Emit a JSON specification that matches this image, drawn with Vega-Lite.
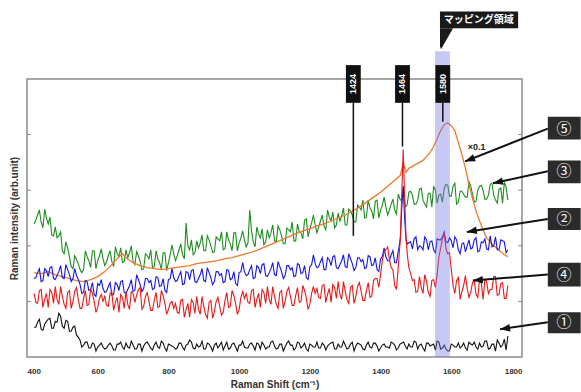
{
"$schema": "https://vega.github.io/schema/vega-lite/v6.json",
"width": 495, "height": 278,
"autosize": {"type": "none"},
"padding": {"left": 27, "top": 79, "right": 59, "bottom": 35},
"background": "white",
"config": {"view": {"stroke": "#8a8a8a", "strokeWidth": 1.5}},
"datasets": {
"green": [{"x":420,"y":134},{"x":430,"y":143},{"x":440,"y":136},{"x":450,"y":149},{"x":460,"y":134},{"x":470,"y":123},{"x":480,"y":131},{"x":490,"y":122},{"x":500,"y":107},{"x":510,"y":116},{"x":520,"y":101},{"x":530,"y":89},{"x":540,"y":98},{"x":550,"y":88},{"x":560,"y":88},{"x":570,"y":101},{"x":580,"y":90},{"x":590,"y":107},{"x":600,"y":97},{"x":610,"y":109},{"x":620,"y":92},{"x":630,"y":102},{"x":640,"y":96},{"x":650,"y":111},{"x":660,"y":101},{"x":670,"y":95},{"x":680,"y":108},{"x":690,"y":105},{"x":700,"y":96},{"x":710,"y":106},{"x":720,"y":96},{"x":730,"y":89},{"x":740,"y":102},{"x":750,"y":108},{"x":760,"y":91},{"x":770,"y":99},{"x":780,"y":88},{"x":790,"y":105},{"x":800,"y":95},{"x":810,"y":113},{"x":820,"y":97},{"x":830,"y":108},{"x":840,"y":103},{"x":850,"y":135},{"x":860,"y":108},{"x":870,"y":103},{"x":880,"y":117},{"x":890,"y":115},{"x":900,"y":107},{"x":910,"y":122},{"x":920,"y":112},{"x":930,"y":106},{"x":940,"y":119},{"x":950,"y":126},{"x":960,"y":109},{"x":970,"y":118},{"x":980,"y":107},{"x":990,"y":125},{"x":1000,"y":115},{"x":1010,"y":127},{"x":1020,"y":111},{"x":1030,"y":148},{"x":1040,"y":116},{"x":1050,"y":131},{"x":1060,"y":120},{"x":1070,"y":113},{"x":1080,"y":128},{"x":1090,"y":125},{"x":1100,"y":117},{"x":1110,"y":132},{"x":1120,"y":122},{"x":1130,"y":114},{"x":1140,"y":128},{"x":1150,"y":136},{"x":1160,"y":117},{"x":1170,"y":126},{"x":1180,"y":119},{"x":1190,"y":139},{"x":1200,"y":129},{"x":1210,"y":143},{"x":1220,"y":125},{"x":1230,"y":137},{"x":1240,"y":132},{"x":1250,"y":148},{"x":1260,"y":137},{"x":1270,"y":130},{"x":1280,"y":145},{"x":1290,"y":142},{"x":1300,"y":133},{"x":1310,"y":149},{"x":1320,"y":143},{"x":1330,"y":136},{"x":1340,"y":151},{"x":1350,"y":158},{"x":1360,"y":141},{"x":1370,"y":150},{"x":1380,"y":139},{"x":1390,"y":158},{"x":1400,"y":148},{"x":1410,"y":161},{"x":1420,"y":143},{"x":1430,"y":154},{"x":1440,"y":148},{"x":1450,"y":164},{"x":1460,"y":157},{"x":1464,"y":172},{"x":1470,"y":151},{"x":1480,"y":166},{"x":1490,"y":163},{"x":1500,"y":154},{"x":1510,"y":169},{"x":1520,"y":158},{"x":1530,"y":151},{"x":1540,"y":165},{"x":1550,"y":172},{"x":1560,"y":155},{"x":1570,"y":164},{"x":1580,"y":170},{"x":1590,"y":173},{"x":1600,"y":162},{"x":1610,"y":175},{"x":1620,"y":156},{"x":1630,"y":167},{"x":1640,"y":161},{"x":1650,"y":177},{"x":1660,"y":164},{"x":1670,"y":157},{"x":1680,"y":172},{"x":1690,"y":168},{"x":1700,"y":159},{"x":1710,"y":174},{"x":1720,"y":163},{"x":1730,"y":155},{"x":1740,"y":170},{"x":1750,"y":176},{"x":1760,"y":158},
{"x":425,"y":138},{"x":435,"y":148},{"x":445,"y":130},{"x":455,"y":140},{"x":465,"y":141},{"x":475,"y":122},{"x":485,"y":120},{"x":495,"y":126},{"x":505,"y":104},{"x":515,"y":110},{"x":525,"y":91},{"x":535,"y":102},{"x":545,"y":94},{"x":555,"y":85},{"x":565,"y":107},{"x":575,"y":97},{"x":585,"y":107},{"x":595,"y":89},{"x":605,"y":102},{"x":615,"y":99},{"x":625,"y":96},{"x":635,"y":107},{"x":645,"y":91},{"x":655,"y":104},{"x":665,"y":110},{"x":675,"y":96},{"x":685,"y":100},{"x":695,"y":112},{"x":705,"y":93},{"x":715,"y":102},{"x":725,"y":88},{"x":735,"y":104},{"x":745,"y":99},{"x":755,"y":90},{"x":765,"y":107},{"x":775,"y":95},{"x":785,"y":105},{"x":795,"y":87},{"x":805,"y":103},{"x":815,"y":104},{"x":825,"y":102},{"x":835,"y":114},{"x":845,"y":99},{"x":855,"y":112},{"x":865,"y":118},{"x":875,"y":105},{"x":885,"y":110},{"x":895,"y":123},{"x":905,"y":107},{"x":915,"y":118},{"x":925,"y":105},{"x":935,"y":121},{"x":945,"y":117},{"x":955,"y":108},{"x":965,"y":126},{"x":975,"y":114},{"x":985,"y":125},{"x":995,"y":107},{"x":1005,"y":120},{"x":1015,"y":118},{"x":1025,"y":115},{"x":1035,"y":127},{"x":1045,"y":111},{"x":1055,"y":124},{"x":1065,"y":129},{"x":1075,"y":116},{"x":1085,"y":120},{"x":1095,"y":133},{"x":1105,"y":116},{"x":1115,"y":128},{"x":1125,"y":114},{"x":1135,"y":130},{"x":1145,"y":126},{"x":1155,"y":117},{"x":1165,"y":134},{"x":1175,"y":125},{"x":1185,"y":138},{"x":1195,"y":121},{"x":1205,"y":135},{"x":1215,"y":133},{"x":1225,"y":131},{"x":1235,"y":143},{"x":1245,"y":128},{"x":1255,"y":141},{"x":1265,"y":146},{"x":1275,"y":133},{"x":1285,"y":137},{"x":1295,"y":150},{"x":1305,"y":133},{"x":1315,"y":147},{"x":1325,"y":136},{"x":1335,"y":153},{"x":1345,"y":148},{"x":1355,"y":140},{"x":1365,"y":158},{"x":1375,"y":147},{"x":1385,"y":157},{"x":1395,"y":140},{"x":1405,"y":153},{"x":1415,"y":151},{"x":1425,"y":148},{"x":1435,"y":159},{"x":1445,"y":144},{"x":1455,"y":159},{"x":1475,"y":153},{"x":1485,"y":167},{"x":1495,"y":154},{"x":1505,"y":158},{"x":1515,"y":170},{"x":1525,"y":154},{"x":1535,"y":165},{"x":1545,"y":151},{"x":1555,"y":168},{"x":1565,"y":163},{"x":1575,"y":156},{"x":1585,"y":174},{"x":1595,"y":162},{"x":1605,"y":172},{"x":1615,"y":154},{"x":1625,"y":167},{"x":1635,"y":164},{"x":1645,"y":161},{"x":1655,"y":172},{"x":1665,"y":156},{"x":1675,"y":168},{"x":1685,"y":173},{"x":1695,"y":159},{"x":1705,"y":163},{"x":1715,"y":175},{"x":1725,"y":158},{"x":1735,"y":169},{"x":1745,"y":155},{"x":1755,"y":171}],
"orange": [{"x":420,"y":85},{"x":440,"y":84},{"x":460,"y":86},{"x":480,"y":83},{"x":500,"y":81},{"x":520,"y":79},{"x":540,"y":77},{"x":560,"y":76},{"x":580,"y":78},{"x":600,"y":81},{"x":620,"y":86},{"x":640,"y":93},{"x":660,"y":101},{"x":670,"y":104},{"x":680,"y":100},{"x":700,"y":95},{"x":720,"y":92},{"x":740,"y":90},{"x":760,"y":89},{"x":780,"y":88},{"x":800,"y":89},{"x":820,"y":90},{"x":840,"y":91},{"x":860,"y":92},{"x":880,"y":94},{"x":900,"y":95},{"x":920,"y":96},{"x":940,"y":97},{"x":960,"y":99},{"x":980,"y":100},{"x":1000,"y":102},{"x":1020,"y":104},{"x":1040,"y":106},{"x":1060,"y":109},{"x":1080,"y":112},{"x":1100,"y":115},{"x":1120,"y":118},{"x":1140,"y":121},{"x":1160,"y":124},{"x":1180,"y":127},{"x":1200,"y":129},{"x":1220,"y":132},{"x":1240,"y":134},{"x":1260,"y":137},{"x":1280,"y":140},{"x":1300,"y":143},{"x":1320,"y":147},{"x":1340,"y":151},{"x":1360,"y":156},{"x":1380,"y":161},{"x":1400,"y":166},{"x":1420,"y":172},{"x":1440,"y":178},{"x":1456,"y":183},{"x":1464,"y":196},{"x":1472,"y":186},{"x":1480,"y":190},{"x":1500,"y":194},{"x":1520,"y":198},{"x":1540,"y":206},{"x":1550,"y":212},{"x":1560,"y":220},{"x":1570,"y":228},{"x":1580,"y":234},{"x":1590,"y":236},{"x":1600,"y":233},{"x":1610,"y":228},{"x":1620,"y":216},{"x":1630,"y":204},{"x":1640,"y":190},{"x":1650,"y":174},{"x":1660,"y":160},{"x":1670,"y":147},{"x":1680,"y":137},{"x":1690,"y":128},{"x":1700,"y":120},{"x":1710,"y":116},{"x":1720,"y":112},{"x":1730,"y":109},{"x":1740,"y":106},{"x":1750,"y":103},{"x":1760,"y":101}],
"blue": [{"x":420,"y":79},{"x":430,"y":85},{"x":440,"y":76},{"x":450,"y":89},{"x":460,"y":81},{"x":470,"y":91},{"x":480,"y":78},{"x":490,"y":86},{"x":500,"y":80},{"x":510,"y":93},{"x":520,"y":83},{"x":530,"y":79},{"x":540,"y":82},{"x":550,"y":73},{"x":560,"y":65},{"x":570,"y":76},{"x":580,"y":68},{"x":590,"y":63},{"x":600,"y":74},{"x":610,"y":78},{"x":620,"y":65},{"x":630,"y":71},{"x":640,"y":62},{"x":650,"y":75},{"x":660,"y":67},{"x":670,"y":77},{"x":680,"y":64},{"x":690,"y":72},{"x":700,"y":66},{"x":710,"y":83},{"x":720,"y":73},{"x":730,"y":69},{"x":740,"y":79},{"x":750,"y":77},{"x":760,"y":69},{"x":770,"y":80},{"x":780,"y":72},{"x":790,"y":67},{"x":800,"y":78},{"x":810,"y":89},{"x":820,"y":76},{"x":830,"y":82},{"x":840,"y":73},{"x":850,"y":86},{"x":860,"y":78},{"x":870,"y":88},{"x":880,"y":75},{"x":890,"y":83},{"x":900,"y":77},{"x":910,"y":90},{"x":920,"y":80},{"x":930,"y":76},{"x":940,"y":86},{"x":950,"y":84},{"x":960,"y":76},{"x":970,"y":87},{"x":980,"y":79},{"x":990,"y":74},{"x":1000,"y":85},{"x":1010,"y":95},{"x":1020,"y":82},{"x":1030,"y":88},{"x":1040,"y":79},{"x":1050,"y":92},{"x":1060,"y":84},{"x":1070,"y":94},{"x":1080,"y":81},{"x":1090,"y":89},{"x":1100,"y":83},{"x":1110,"y":96},{"x":1120,"y":86},{"x":1130,"y":82},{"x":1140,"y":92},{"x":1150,"y":90},{"x":1160,"y":82},{"x":1170,"y":93},{"x":1180,"y":85},{"x":1190,"y":80},{"x":1200,"y":91},{"x":1210,"y":103},{"x":1220,"y":90},{"x":1230,"y":96},{"x":1240,"y":88},{"x":1250,"y":100},{"x":1260,"y":92},{"x":1270,"y":102},{"x":1280,"y":89},{"x":1290,"y":97},{"x":1300,"y":91},{"x":1310,"y":104},{"x":1320,"y":94},{"x":1330,"y":90},{"x":1340,"y":100},{"x":1350,"y":98},{"x":1360,"y":90},{"x":1370,"y":101},{"x":1380,"y":93},{"x":1390,"y":88},{"x":1400,"y":99},{"x":1410,"y":110},{"x":1420,"y":97},{"x":1430,"y":103},{"x":1440,"y":95},{"x":1450,"y":107},{"x":1456,"y":120},{"x":1460,"y":150},{"x":1464,"y":172},{"x":1468,"y":140},{"x":1472,"y":118},{"x":1480,"y":115},{"x":1490,"y":109},{"x":1500,"y":121},{"x":1510,"y":112},{"x":1520,"y":108},{"x":1530,"y":118},{"x":1540,"y":116},{"x":1550,"y":108},{"x":1560,"y":119},{"x":1570,"y":118},{"x":1580,"y":126},{"x":1590,"y":115},{"x":1600,"y":117},{"x":1610,"y":121},{"x":1620,"y":108},{"x":1630,"y":114},{"x":1640,"y":106},{"x":1650,"y":118},{"x":1660,"y":110},{"x":1670,"y":120},{"x":1680,"y":107},{"x":1690,"y":115},{"x":1700,"y":109},{"x":1710,"y":122},{"x":1720,"y":112},{"x":1730,"y":108},{"x":1740,"y":118},{"x":1750,"y":116},{"x":1760,"y":108},
{"x":425,"y":80},{"x":435,"y":89},{"x":445,"y":77},{"x":455,"y":87},{"x":465,"y":90},{"x":475,"y":79},{"x":485,"y":82},{"x":495,"y":92},{"x":505,"y":79},{"x":515,"y":88},{"x":525,"y":76},{"x":535,"y":89},{"x":545,"y":78},{"x":555,"y":64},{"x":565,"y":77},{"x":575,"y":67},{"x":585,"y":75},{"x":595,"y":61},{"x":605,"y":72},{"x":615,"y":69},{"x":625,"y":66},{"x":635,"y":75},{"x":645,"y":63},{"x":655,"y":73},{"x":665,"y":76},{"x":675,"y":65},{"x":685,"y":68},{"x":695,"y":78},{"x":705,"y":67},{"x":715,"y":78},{"x":725,"y":66},{"x":735,"y":79},{"x":745,"y":75},{"x":755,"y":68},{"x":765,"y":81},{"x":775,"y":71},{"x":785,"y":79},{"x":795,"y":65},{"x":805,"y":79},{"x":815,"y":80},{"x":825,"y":77},{"x":835,"y":86},{"x":845,"y":74},{"x":855,"y":85},{"x":865,"y":87},{"x":875,"y":76},{"x":885,"y":79},{"x":895,"y":89},{"x":905,"y":76},{"x":915,"y":85},{"x":925,"y":73},{"x":935,"y":86},{"x":945,"y":82},{"x":955,"y":75},{"x":965,"y":88},{"x":975,"y":78},{"x":985,"y":86},{"x":995,"y":72},{"x":1005,"y":86},{"x":1015,"y":86},{"x":1025,"y":83},{"x":1035,"y":92},{"x":1045,"y":80},{"x":1055,"y":90},{"x":1065,"y":93},{"x":1075,"y":82},{"x":1085,"y":85},{"x":1095,"y":95},{"x":1105,"y":82},{"x":1115,"y":91},{"x":1125,"y":79},{"x":1135,"y":92},{"x":1145,"y":88},{"x":1155,"y":81},{"x":1165,"y":94},{"x":1175,"y":84},{"x":1185,"y":92},{"x":1195,"y":78},{"x":1205,"y":93},{"x":1215,"y":94},{"x":1225,"y":91},{"x":1235,"y":100},{"x":1245,"y":88},{"x":1255,"y":98},{"x":1265,"y":101},{"x":1275,"y":90},{"x":1285,"y":93},{"x":1295,"y":103},{"x":1305,"y":90},{"x":1315,"y":99},{"x":1325,"y":87},{"x":1335,"y":100},{"x":1345,"y":96},{"x":1355,"y":89},{"x":1365,"y":102},{"x":1375,"y":92},{"x":1385,"y":100},{"x":1395,"y":86},{"x":1405,"y":101},{"x":1415,"y":101},{"x":1425,"y":97},{"x":1435,"y":107},{"x":1445,"y":95},{"x":1452,"y":110},{"x":1476,"y":114},{"x":1485,"y":116},{"x":1495,"y":119},{"x":1505,"y":108},{"x":1515,"y":111},{"x":1525,"y":121},{"x":1535,"y":108},{"x":1545,"y":117},{"x":1555,"y":105},{"x":1565,"y":118},{"x":1575,"y":121},{"x":1585,"y":116},{"x":1595,"y":120},{"x":1605,"y":110},{"x":1615,"y":118},{"x":1625,"y":104},{"x":1635,"y":115},{"x":1645,"y":112},{"x":1655,"y":109},{"x":1665,"y":118},{"x":1675,"y":106},{"x":1685,"y":116},{"x":1695,"y":119},{"x":1705,"y":108},{"x":1715,"y":111},{"x":1725,"y":121},{"x":1735,"y":108},{"x":1745,"y":117},{"x":1755,"y":105}],
"red": [{"x":420,"y":64},{"x":430,"y":54},{"x":440,"y":68},{"x":450,"y":58},{"x":460,"y":50},{"x":470,"y":65},{"x":480,"y":71},{"x":490,"y":53},{"x":500,"y":61},{"x":510,"y":49},{"x":520,"y":67},{"x":530,"y":56},{"x":540,"y":70},{"x":550,"y":49},{"x":560,"y":59},{"x":570,"y":52},{"x":580,"y":69},{"x":590,"y":56},{"x":600,"y":50},{"x":610,"y":63},{"x":620,"y":61},{"x":630,"y":51},{"x":640,"y":65},{"x":650,"y":55},{"x":660,"y":45},{"x":670,"y":60},{"x":680,"y":66},{"x":690,"y":48},{"x":700,"y":64},{"x":710,"y":62},{"x":720,"y":70},{"x":730,"y":51},{"x":740,"y":65},{"x":750,"y":47},{"x":760,"y":57},{"x":770,"y":50},{"x":780,"y":67},{"x":790,"y":54},{"x":800,"y":48},{"x":810,"y":56},{"x":820,"y":54},{"x":830,"y":44},{"x":840,"y":58},{"x":850,"y":48},{"x":860,"y":40},{"x":870,"y":55},{"x":880,"y":61},{"x":890,"y":43},{"x":900,"y":51},{"x":910,"y":39},{"x":920,"y":57},{"x":930,"y":46},{"x":940,"y":60},{"x":950,"y":42},{"x":960,"y":57},{"x":970,"y":50},{"x":980,"y":67},{"x":990,"y":54},{"x":1000,"y":48},{"x":1010,"y":66},{"x":1020,"y":64},{"x":1030,"y":54},{"x":1040,"y":68},{"x":1050,"y":58},{"x":1060,"y":50},{"x":1070,"y":65},{"x":1080,"y":71},{"x":1090,"y":53},{"x":1100,"y":61},{"x":1110,"y":49},{"x":1120,"y":67},{"x":1130,"y":56},{"x":1140,"y":70},{"x":1150,"y":52},{"x":1160,"y":62},{"x":1170,"y":55},{"x":1180,"y":72},{"x":1190,"y":59},{"x":1200,"y":53},{"x":1210,"y":71},{"x":1220,"y":69},{"x":1230,"y":59},{"x":1240,"y":73},{"x":1250,"y":63},{"x":1260,"y":55},{"x":1270,"y":70},{"x":1280,"y":76},{"x":1290,"y":58},{"x":1300,"y":66},{"x":1310,"y":54},{"x":1320,"y":72},{"x":1330,"y":61},{"x":1340,"y":75},{"x":1350,"y":57},{"x":1360,"y":67},{"x":1370,"y":60},{"x":1380,"y":77},{"x":1390,"y":79},{"x":1400,"y":83},{"x":1410,"y":106},{"x":1420,"y":111},{"x":1430,"y":90},{"x":1440,"y":72},{"x":1450,"y":90},{"x":1456,"y":120},{"x":1460,"y":165},{"x":1464,"y":209},{"x":1468,"y":160},{"x":1472,"y":120},{"x":1480,"y":90},{"x":1490,"y":77},{"x":1500,"y":65},{"x":1510,"y":81},{"x":1520,"y":64},{"x":1530,"y":76},{"x":1540,"y":61},{"x":1550,"y":78},{"x":1560,"y":83},{"x":1570,"y":110},{"x":1580,"y":125},{"x":1590,"y":104},{"x":1600,"y":88},{"x":1610,"y":64},{"x":1620,"y":80},{"x":1630,"y":66},{"x":1640,"y":82},{"x":1650,"y":60},{"x":1660,"y":75},{"x":1670,"y":63},{"x":1680,"y":78},{"x":1690,"y":58},{"x":1700,"y":76},{"x":1710,"y":68},{"x":1720,"y":81},{"x":1730,"y":62},{"x":1740,"y":74},{"x":1750,"y":59},{"x":1760,"y":72},
{"x":425,"y":55},{"x":435,"y":67},{"x":445,"y":50},{"x":455,"y":64},{"x":465,"y":68},{"x":475,"y":54},{"x":485,"y":58},{"x":495,"y":71},{"x":505,"y":53},{"x":515,"y":65},{"x":525,"y":49},{"x":535,"y":66},{"x":545,"y":58},{"x":555,"y":49},{"x":565,"y":67},{"x":575,"y":53},{"x":585,"y":64},{"x":595,"y":45},{"x":605,"y":59},{"x":615,"y":56},{"x":625,"y":52},{"x":635,"y":64},{"x":645,"y":47},{"x":655,"y":60},{"x":665,"y":63},{"x":675,"y":49},{"x":685,"y":53},{"x":695,"y":66},{"x":705,"y":55},{"x":715,"y":68},{"x":725,"y":48},{"x":735,"y":61},{"x":745,"y":56},{"x":755,"y":47},{"x":765,"y":65},{"x":775,"y":51},{"x":785,"y":62},{"x":795,"y":43},{"x":805,"y":54},{"x":815,"y":49},{"x":825,"y":45},{"x":835,"y":57},{"x":845,"y":40},{"x":855,"y":54},{"x":865,"y":58},{"x":875,"y":44},{"x":885,"y":48},{"x":895,"y":61},{"x":905,"y":43},{"x":915,"y":55},{"x":925,"y":39},{"x":935,"y":56},{"x":945,"y":51},{"x":955,"y":45},{"x":965,"y":65},{"x":975,"y":51},{"x":985,"y":62},{"x":995,"y":43},{"x":1005,"y":60},{"x":1015,"y":59},{"x":1025,"y":55},{"x":1035,"y":67},{"x":1045,"y":50},{"x":1055,"y":64},{"x":1065,"y":68},{"x":1075,"y":54},{"x":1085,"y":58},{"x":1095,"y":71},{"x":1105,"y":53},{"x":1115,"y":65},{"x":1125,"y":49},{"x":1135,"y":66},{"x":1145,"y":61},{"x":1155,"y":52},{"x":1165,"y":70},{"x":1175,"y":56},{"x":1185,"y":67},{"x":1195,"y":48},{"x":1205,"y":64},{"x":1215,"y":64},{"x":1225,"y":60},{"x":1235,"y":72},{"x":1245,"y":55},{"x":1255,"y":69},{"x":1265,"y":73},{"x":1275,"y":59},{"x":1285,"y":63},{"x":1295,"y":76},{"x":1305,"y":58},{"x":1315,"y":70},{"x":1325,"y":54},{"x":1335,"y":71},{"x":1345,"y":66},{"x":1355,"y":57},{"x":1365,"y":75},{"x":1375,"y":61},{"x":1385,"y":79},{"x":1395,"y":70},{"x":1405,"y":97},{"x":1415,"y":108},{"x":1425,"y":98},{"x":1435,"y":88},{"x":1445,"y":68},{"x":1452,"y":100},{"x":1476,"y":102},{"x":1485,"y":84},{"x":1495,"y":78},{"x":1505,"y":66},{"x":1515,"y":70},{"x":1525,"y":83},{"x":1535,"y":65},{"x":1545,"y":77},{"x":1555,"y":70},{"x":1565,"y":101},{"x":1575,"y":119},{"x":1585,"y":109},{"x":1595,"y":105},{"x":1605,"y":72},{"x":1615,"y":77},{"x":1625,"y":58},{"x":1635,"y":72},{"x":1645,"y":69},{"x":1655,"y":65},{"x":1665,"y":77},{"x":1675,"y":60},{"x":1685,"y":74},{"x":1695,"y":78},{"x":1705,"y":64},{"x":1715,"y":68},{"x":1725,"y":81},{"x":1735,"y":63},{"x":1745,"y":75},{"x":1755,"y":59}],
"black": [{"x":420,"y":30},{"x":430,"y":35},{"x":440,"y":28},{"x":450,"y":33},{"x":460,"y":38},{"x":470,"y":29},{"x":480,"y":36},{"x":490,"y":44},{"x":500,"y":31},{"x":510,"y":37},{"x":520,"y":26},{"x":530,"y":30},{"x":540,"y":22},{"x":550,"y":17},{"x":560,"y":12},{"x":570,"y":15},{"x":580,"y":9},{"x":590,"y":13},{"x":600,"y":10},{"x":610,"y":14},{"x":620,"y":8},{"x":630,"y":12},{"x":640,"y":11},{"x":650,"y":7},{"x":660,"y":13},{"x":670,"y":10},{"x":680,"y":14},{"x":690,"y":9},{"x":700,"y":12},{"x":710,"y":8},{"x":720,"y":13},{"x":730,"y":11},{"x":740,"y":15},{"x":750,"y":9},{"x":760,"y":12},{"x":770,"y":10},{"x":780,"y":16},{"x":790,"y":9},{"x":800,"y":13},{"x":810,"y":11},{"x":820,"y":8},{"x":830,"y":14},{"x":840,"y":10},{"x":850,"y":12},{"x":860,"y":17},{"x":870,"y":9},{"x":880,"y":13},{"x":890,"y":11},{"x":900,"y":8},{"x":910,"y":14},{"x":920,"y":10},{"x":930,"y":12},{"x":940,"y":9},{"x":950,"y":15},{"x":960,"y":11},{"x":970,"y":8},{"x":980,"y":13},{"x":990,"y":10},{"x":1000,"y":12},{"x":1010,"y":16},{"x":1020,"y":9},{"x":1030,"y":13},{"x":1040,"y":11},{"x":1050,"y":14},{"x":1060,"y":8},{"x":1070,"y":12},{"x":1080,"y":10},{"x":1090,"y":15},{"x":1100,"y":11},{"x":1110,"y":9},{"x":1120,"y":13},{"x":1130,"y":10},{"x":1140,"y":16},{"x":1150,"y":12},{"x":1160,"y":9},{"x":1170,"y":14},{"x":1180,"y":11},{"x":1190,"y":8},{"x":1200,"y":13},{"x":1210,"y":10},{"x":1220,"y":15},{"x":1230,"y":9},{"x":1240,"y":12},{"x":1250,"y":11},{"x":1260,"y":14},{"x":1270,"y":8},{"x":1280,"y":13},{"x":1290,"y":10},{"x":1300,"y":12},{"x":1310,"y":9},{"x":1320,"y":15},{"x":1330,"y":11},{"x":1340,"y":13},{"x":1350,"y":8},{"x":1360,"y":12},{"x":1370,"y":10},{"x":1380,"y":14},{"x":1390,"y":11},{"x":1400,"y":9},{"x":1410,"y":13},{"x":1420,"y":10},{"x":1430,"y":15},{"x":1440,"y":12},{"x":1450,"y":9},{"x":1460,"y":14},{"x":1470,"y":11},{"x":1480,"y":13},{"x":1490,"y":10},{"x":1500,"y":15},{"x":1510,"y":12},{"x":1520,"y":9},{"x":1530,"y":14},{"x":1540,"y":11},{"x":1550,"y":13},{"x":1560,"y":16},{"x":1570,"y":8},{"x":1580,"y":12},{"x":1590,"y":6},{"x":1600,"y":13},{"x":1610,"y":10},{"x":1620,"y":14},{"x":1630,"y":11},{"x":1640,"y":9},{"x":1650,"y":15},{"x":1660,"y":12},{"x":1670,"y":10},{"x":1680,"y":14},{"x":1690,"y":11},{"x":1700,"y":16},{"x":1710,"y":9},{"x":1720,"y":13},{"x":1730,"y":17},{"x":1740,"y":10},{"x":1750,"y":18},{"x":1760,"y":21},
{"x":425,"y":30},{"x":435,"y":38},{"x":445,"y":27},{"x":455,"y":36},{"x":465,"y":39},{"x":475,"y":29},{"x":485,"y":35},{"x":495,"y":41},{"x":505,"y":29},{"x":515,"y":36},{"x":525,"y":26},{"x":535,"y":31},{"x":545,"y":20},{"x":555,"y":10},{"x":565,"y":15},{"x":575,"y":9},{"x":585,"y":14},{"x":595,"y":6},{"x":605,"y":12},{"x":615,"y":10},{"x":625,"y":9},{"x":635,"y":14},{"x":645,"y":7},{"x":655,"y":13},{"x":665,"y":15},{"x":675,"y":8},{"x":685,"y":10},{"x":695,"y":16},{"x":705,"y":8},{"x":715,"y":13},{"x":725,"y":6},{"x":735,"y":14},{"x":745,"y":12},{"x":755,"y":7},{"x":765,"y":15},{"x":775,"y":9},{"x":785,"y":14},{"x":795,"y":6},{"x":805,"y":12},{"x":815,"y":10},{"x":825,"y":9},{"x":835,"y":14},{"x":845,"y":7},{"x":855,"y":13},{"x":865,"y":15},{"x":875,"y":8},{"x":885,"y":10},{"x":895,"y":16},{"x":905,"y":8},{"x":915,"y":13},{"x":925,"y":6},{"x":935,"y":14},{"x":945,"y":12},{"x":955,"y":7},{"x":965,"y":15},{"x":975,"y":9},{"x":985,"y":14},{"x":995,"y":6},{"x":1005,"y":12},{"x":1015,"y":10},{"x":1025,"y":9},{"x":1035,"y":14},{"x":1045,"y":7},{"x":1055,"y":13},{"x":1065,"y":15},{"x":1075,"y":8},{"x":1085,"y":10},{"x":1095,"y":16},{"x":1105,"y":8},{"x":1115,"y":13},{"x":1125,"y":6},{"x":1135,"y":14},{"x":1145,"y":12},{"x":1155,"y":7},{"x":1165,"y":15},{"x":1175,"y":9},{"x":1185,"y":14},{"x":1195,"y":6},{"x":1205,"y":12},{"x":1215,"y":10},{"x":1225,"y":9},{"x":1235,"y":14},{"x":1245,"y":7},{"x":1255,"y":13},{"x":1265,"y":15},{"x":1275,"y":8},{"x":1285,"y":10},{"x":1295,"y":16},{"x":1305,"y":8},{"x":1315,"y":13},{"x":1325,"y":6},{"x":1335,"y":14},{"x":1345,"y":12},{"x":1355,"y":7},{"x":1365,"y":15},{"x":1375,"y":9},{"x":1385,"y":14},{"x":1395,"y":6},{"x":1405,"y":12},{"x":1415,"y":10},{"x":1425,"y":9},{"x":1435,"y":14},{"x":1445,"y":7},{"x":1455,"y":13},{"x":1465,"y":15},{"x":1475,"y":8},{"x":1485,"y":10},{"x":1495,"y":16},{"x":1505,"y":8},{"x":1515,"y":13},{"x":1525,"y":6},{"x":1535,"y":14},{"x":1545,"y":12},{"x":1555,"y":7},{"x":1565,"y":15},{"x":1575,"y":9},{"x":1585,"y":8},{"x":1595,"y":6},{"x":1605,"y":12},{"x":1615,"y":10},{"x":1625,"y":9},{"x":1635,"y":14},{"x":1645,"y":7},{"x":1655,"y":13},{"x":1665,"y":15},{"x":1675,"y":8},{"x":1685,"y":10},{"x":1695,"y":16},{"x":1705,"y":8},{"x":1715,"y":13},{"x":1725,"y":6},{"x":1735,"y":14},{"x":1745,"y":12},{"x":1755,"y":7}],
"band": [{"x":1554,"x2":1596,"y":0,"y2":308}],
"peaks": [{"t":"1424","x":1323,"a":1302,"b":1344,"lo":122,"bt":256,"bb":294,"ty":275},{"t":"1464","x":1462,"a":1441,"b":1483,"lo":212,"bt":256,"bb":294,"ty":275},{"t":"1580","x":1576,"a":1555,"b":1597,"lo":237,"bt":256,"bb":294,"ty":275}],
"callouts": [{"t":"⑤","y":230,"lo":219,"hi":242,"tx":1639,"ty":197,"bx":1873,"bx2":1966,"cx":1919},{"t":"③","y":187,"lo":175,"hi":198,"tx":1718,"ty":175,"bx":1873,"bx2":1966,"cx":1919},{"t":"②","y":139,"lo":128,"hi":150,"tx":1644,"ty":126,"bx":1873,"bx2":1966,"cx":1919},{"t":"④","y":83,"lo":71,"hi":95,"tx":1661,"ty":77,"bx":1873,"bx2":1966,"cx":1919},{"t":"①","y":35,"lo":24,"hi":45,"tx":1738,"ty":28,"bx":1873,"bx2":1966,"cx":1919}],
"ticks": [{"x":400,"x2":411,"y":56},{"x":400,"x2":411,"y":112},{"x":400,"x2":411,"y":168},{"x":400,"x2":411,"y":224},{"x":1789,"x2":1800,"y":56},{"x":1789,"x2":1800,"y":112},{"x":1789,"x2":1800,"y":168},{"x":1789,"x2":1800,"y":224}],
"mapping": [{"t":"マッピング領域","x":1568,"x2":1789,"y":331,"y2":348,"tx":1678,"ty":339.5}],
"tri": [{"x":1568,"y":331,"y2":313},{"x":1571,"y":331,"y2":310},{"x":1605,"y":331,"y2":331}],
"scale": [{"t":"×0.1","x":1672,"y":212}]
},
"encoding": {
"x": {"field": "x", "type": "quantitative", "scale": {"domain": [400, 1800], "nice": false, "zero": false},
 "axis": {"values": [400,600,800,1000,1200,1400,1600,1800], "format": "d", "title": "Raman Shift (cm⁻¹)", "grid": false, "domain": false, "ticks": false,
  "labelFont": "Liberation Sans", "labelFontWeight": "bold", "labelFontSize": 8, "labelColor": "#333", "labelPadding": 10,
  "titleFont": "Liberation Sans", "titleFontWeight": "bold", "titleFontSize": 10, "titleColor": "#333", "titlePadding": 4}},
"y": {"field": "y", "type": "quantitative", "scale": {"domain": [0, 280], "nice": false, "zero": true},
 "axis": {"title": "Raman intensity (arb.unit)", "grid": false, "domain": false, "ticks": false, "labels": false,
  "titleFont": "Liberation Sans", "titleFontWeight": "bold", "titleFontSize": 10, "titleColor": "#333", "titlePadding": 8}}
},
"layer": [
{"data": {"name": "green"}, "mark": {"type": "line", "color": "#1e8c1e", "strokeWidth": 1.1}},
{"data": {"name": "orange"}, "mark": {"type": "line", "color": "#ec7a2c", "strokeWidth": 1.3}},
{"data": {"name": "blue"}, "mark": {"type": "line", "color": "#1515e6", "strokeWidth": 1.1}},
{"data": {"name": "red"}, "mark": {"type": "line", "color": "#e81818", "strokeWidth": 1.1}},
{"data": {"name": "black"}, "mark": {"type": "line", "color": "#111111", "strokeWidth": 1.1}},
{"data": {"name": "band"}, "mark": {"type": "rect", "color": "#7575e6", "opacity": 0.4},
 "encoding": {"x2": {"field": "x2"}, "y2": {"field": "y2"}}},
{"data": {"name": "ticks"}, "mark": {"type": "rule", "color": "#888", "strokeWidth": 1},
 "encoding": {"x2": {"field": "x2"}}},
{"data": {"name": "peaks"}, "mark": {"type": "rule", "color": "#111", "strokeWidth": 1.5},
 "encoding": {"y": {"field": "lo"}, "y2": {"field": "bt"}}},
{"data": {"name": "peaks"}, "mark": {"type": "rect", "color": "#111"},
 "encoding": {"x": {"field": "a"}, "x2": {"field": "b"}, "y": {"field": "bt"}, "y2": {"field": "bb"}}},
{"data": {"name": "peaks"}, "mark": {"type": "text", "color": "white", "angle": 270, "font": "Liberation Sans", "fontWeight": "bold", "fontSize": 9, "align": "center", "baseline": "middle"},
 "encoding": {"y": {"field": "ty"}, "text": {"field": "t"}}},
{"data": {"name": "mapping"}, "mark": {"type": "rect", "color": "#1a1a1a"},
 "encoding": {"x2": {"field": "x2"}, "y2": {"field": "y2"}}},
{"data": {"name": "tri"}, "mark": {"type": "area", "color": "#1a1a1a"},
 "encoding": {"y2": {"field": "y2"}}},
{"data": {"name": "mapping"}, "mark": {"type": "text", "color": "white", "font": "Noto Sans CJK JP", "fontWeight": "bold", "fontSize": 10, "align": "center", "baseline": "middle"},
 "encoding": {"x": {"field": "tx"}, "y": {"field": "ty"}, "text": {"field": "t"}}},
{"data": {"name": "callouts"}, "mark": {"type": "rect", "color": "#2b2b2b"},
 "encoding": {"x": {"field": "bx"}, "x2": {"field": "bx2"}, "y": {"field": "lo"}, "y2": {"field": "hi"}}},
{"data": {"name": "callouts"}, "mark": {"type": "text", "color": "white", "font": "Noto Sans CJK JP", "fontSize": 15, "align": "center", "baseline": "middle"},
 "encoding": {"x": {"field": "cx"}, "text": {"field": "t"}}},
{"data": {"name": "callouts"}, "mark": {"type": "rule", "color": "#111", "strokeWidth": 2},
 "encoding": {"x": {"field": "bx"}, "x2": {"field": "tx"}, "y2": {"field": "ty"}}},
{"data": {"name": "callouts"}, "transform": [{"filter": "datum.t == '⑤'"}], "mark": {"type": "point", "filled": true, "color": "#111", "opacity": 1, "shape": "M0,0L1,-0.38L1,0.38Z", "size": 400, "angle": -21.7},
 "encoding": {"x": {"field": "tx"}, "y": {"field": "ty"}}},
{"data": {"name": "callouts"}, "transform": [{"filter": "datum.t == '③'"}], "mark": {"type": "point", "filled": true, "color": "#111", "opacity": 1, "shape": "M0,0L1,-0.38L1,0.38Z", "size": 400, "angle": -12.3},
 "encoding": {"x": {"field": "tx"}, "y": {"field": "ty"}}},
{"data": {"name": "callouts"}, "transform": [{"filter": "datum.t == '②'"}], "mark": {"type": "point", "filled": true, "color": "#111", "opacity": 1, "shape": "M0,0L1,-0.38L1,0.38Z", "size": 400, "angle": -9.1},
 "encoding": {"x": {"field": "tx"}, "y": {"field": "ty"}}},
{"data": {"name": "callouts"}, "transform": [{"filter": "datum.t == '④'"}], "mark": {"type": "point", "filled": true, "color": "#111", "opacity": 1, "shape": "M0,0L1,-0.38L1,0.38Z", "size": 400, "angle": -4.6},
 "encoding": {"x": {"field": "tx"}, "y": {"field": "ty"}}},
{"data": {"name": "callouts"}, "transform": [{"filter": "datum.t == '①'"}], "mark": {"type": "point", "filled": true, "color": "#111", "opacity": 1, "shape": "M0,0L1,-0.38L1,0.38Z", "size": 400, "angle": -8.3},
 "encoding": {"x": {"field": "tx"}, "y": {"field": "ty"}}},
{"data": {"name": "scale"}, "mark": {"type": "text", "color": "#222", "font": "Liberation Sans", "fontWeight": "bold", "fontSize": 9, "align": "center", "baseline": "middle"},
 "encoding": {"text": {"field": "t"}}}
]
}
